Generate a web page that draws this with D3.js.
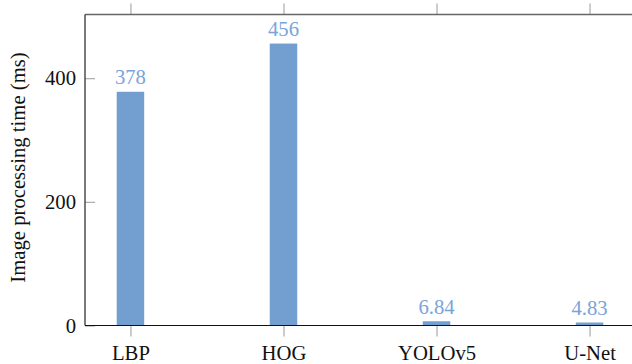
<!DOCTYPE html>
<html>
<head>
<meta charset="utf-8">
<script src="https://cdn.jsdelivr.net/npm/d3@7"></script>
<style>
  html, body { margin: 0; padding: 0; background: #fff; }
  svg { display: block; }
</style>
</head>
<body>
<svg id="chart" width="632" height="364"></svg>
<script>
// Processing time per method (ms)
const methods = ["LBP", "HOG", "YOLOv5", "U-Net"];
const times = [378, 456, 6.84, 4.83];
const timeLabels = ["378", "456", "6.84", "4.83"];
const yTicks = [0, 200, 400];

const W = 632, H = 364;
const plotLeft = 85, plotTop = 14.5, plotBottom = 325.5, plotRight = 635;
const serif = "'Liberation Serif', 'Times New Roman', Times, serif";
const fs = "20.7px";

const svg = d3.select("#chart");

const x = d3.scaleLinear().domain([-0.297, 3.297]).range([plotLeft, plotRight]);
const y = d3.scaleLinear().domain([0, 503]).range([plotBottom, plotTop]);

const barColor = "#729fcf";
const labelColor = "#7aa4d9";
const barW = 27.5;

// bars
svg.append("g").selectAll("rect")
  .data(times)
  .join("rect")
  .attr("x", (d, i) => x(i) - barW / 2)
  .attr("y", d => y(d))
  .attr("width", barW)
  .attr("height", d => y(0) - y(d))
  .attr("fill", barColor);

// value labels above bars
svg.append("g").selectAll("text")
  .data(times)
  .join("text")
  .attr("x", (d, i) => x(i))
  .attr("y", d => y(d) - 7.5)
  .attr("text-anchor", "middle")
  .style("font-family", serif)
  .style("font-size", fs)
  .attr("fill", labelColor)
  .text((d, i) => timeLabels[i]);

// bottom axis: ticks pointing outward, category labels
const xAxis = d3.axisBottom(x)
  .tickValues(d3.range(methods.length))
  .tickFormat(i => methods[i])
  .tickSize(11)
  .tickPadding(10);
const gx = svg.append("g").attr("transform", `translate(0,${plotBottom})`).call(xAxis);
gx.select(".domain").remove();
gx.selectAll(".tick line").attr("stroke", "#aaa").attr("stroke-width", 1.2);
gx.selectAll(".tick text")
  .style("font-family", serif)
  .style("font-size", fs)
  .attr("fill", "#111")
  .attr("y", 34)
  .attr("dy", null);

// top axis: ticks pointing outward, no labels
const xTop = d3.axisTop(x)
  .tickValues(d3.range(methods.length))
  .tickFormat("")
  .tickSize(11);
const gt = svg.append("g").attr("transform", `translate(0,${plotTop})`).call(xTop);
gt.select(".domain").remove();
gt.selectAll(".tick line").attr("stroke", "#aaa").attr("stroke-width", 1.2);

// left axis: ticks pointing inward
const yAxis = d3.axisLeft(y)
  .tickValues(yTicks)
  .tickSize(-10)
  .tickPadding(9);
const gy = svg.append("g").attr("transform", `translate(${plotLeft},0)`).call(yAxis);
gy.select(".domain").remove();
gy.selectAll(".tick line").attr("stroke", "#aaa").attr("stroke-width", 1.2);
gy.selectAll(".tick text")
  .style("font-family", serif)
  .style("font-size", fs)
  .attr("fill", "#111");

// frame lines
svg.append("line").attr("x1", plotLeft).attr("x2", W).attr("y1", plotTop).attr("y2", plotTop)
  .attr("stroke", "#666").attr("stroke-width", 1.3);
svg.append("line").attr("x1", plotLeft).attr("x2", plotLeft).attr("y1", plotTop).attr("y2", plotBottom)
  .attr("stroke", "#222").attr("stroke-width", 1.2);
svg.append("line").attr("x1", plotLeft).attr("x2", W).attr("y1", plotBottom).attr("y2", plotBottom)
  .attr("stroke", "#111").attr("stroke-width", 1.2);

// y-axis title
svg.append("text")
  .attr("transform", `translate(25,167.5) rotate(-90)`)
  .attr("text-anchor", "middle")
  .style("font-family", serif)
  .style("font-size", fs)
  .attr("fill", "#111")
  .text("Image processing time (ms)");
</script>
</body>
</html>
